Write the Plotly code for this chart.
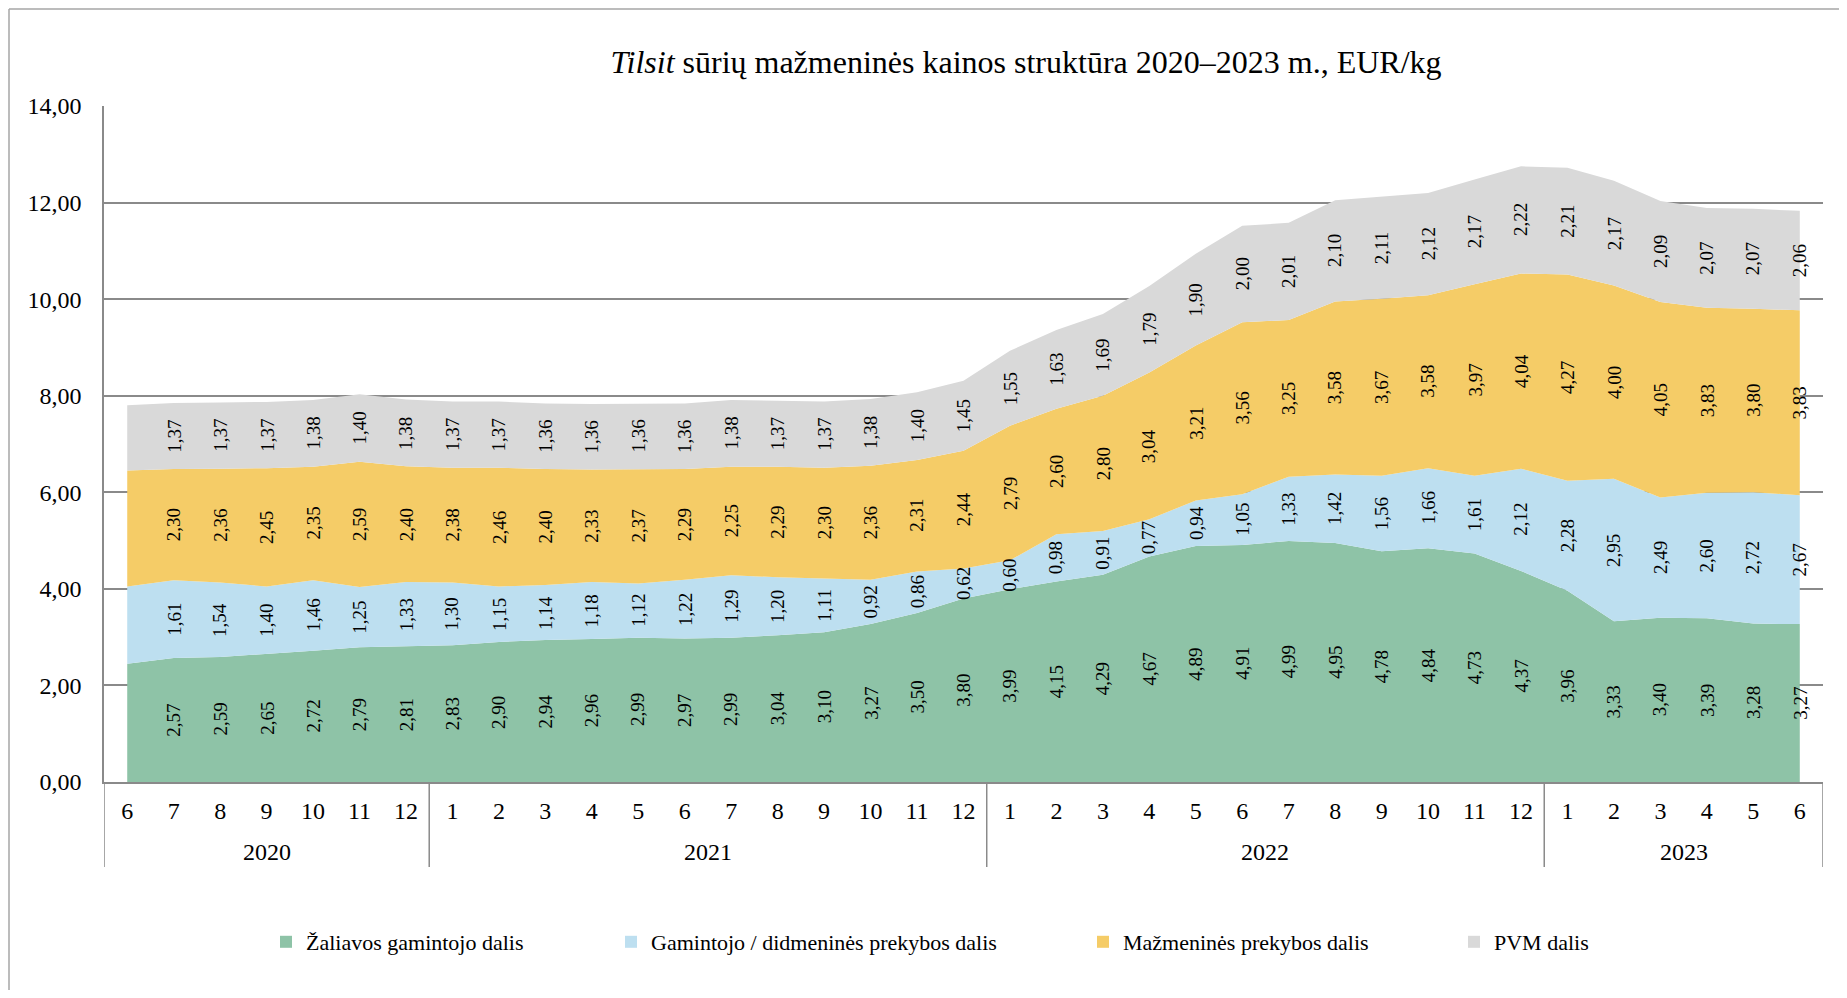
import plotly.graph_objects as go

# ---------------- data ----------------
months = ["6", "7", "8", "9", "10", "11", "12",
          "1", "2", "3", "4", "5", "6", "7", "8", "9", "10", "11", "12",
          "1", "2", "3", "4", "5", "6", "7", "8", "9", "10", "11", "12",
          "1", "2", "3", "4", "5", "6"]
years = ["2020", "2021", "2022", "2023"]
year_counts = [7, 12, 12, 6]

producer = [2.45, 2.57, 2.59, 2.65, 2.72, 2.79, 2.81,
            2.83, 2.90, 2.94, 2.96, 2.99, 2.97, 2.99, 3.04, 3.10, 3.27, 3.50, 3.80,
            3.99, 4.15, 4.29, 4.67, 4.89, 4.91, 4.99, 4.95, 4.78, 4.84, 4.73, 4.37,
            3.96, 3.33, 3.40, 3.39, 3.28, 3.27]
wholesale = [1.60, 1.61, 1.54, 1.40, 1.46, 1.25, 1.33,
             1.30, 1.15, 1.14, 1.18, 1.12, 1.22, 1.29, 1.20, 1.11, 0.92, 0.86, 0.62,
             0.60, 0.98, 0.91, 0.77, 0.94, 1.05, 1.33, 1.42, 1.56, 1.66, 1.61, 2.12,
             2.28, 2.95, 2.49, 2.60, 2.72, 2.67]
retail = [2.40, 2.30, 2.36, 2.45, 2.35, 2.59, 2.40,
          2.38, 2.46, 2.40, 2.33, 2.37, 2.29, 2.25, 2.29, 2.30, 2.36, 2.31, 2.44,
          2.79, 2.60, 2.80, 3.04, 3.21, 3.56, 3.25, 3.58, 3.67, 3.58, 3.97, 4.04,
          4.27, 4.00, 4.05, 3.83, 3.80, 3.83]
vat = [1.35, 1.37, 1.37, 1.37, 1.38, 1.40, 1.38,
       1.37, 1.37, 1.36, 1.36, 1.36, 1.36, 1.38, 1.37, 1.37, 1.38, 1.40, 1.45,
       1.55, 1.63, 1.69, 1.79, 1.90, 2.00, 2.01, 2.10, 2.11, 2.12, 2.17, 2.22,
       2.21, 2.17, 2.09, 2.07, 2.07, 2.06]
# first point (2020-6) has no data label in the reference
labelled = [False] + [True] * 36

series_names = ["Žaliavos gamintojo dalis",
                "Gamintojo / didmeninės prekybos dalis",
                "Mažmeninės prekybos dalis",
                "PVM dalis"]
series_values = [producer, wholesale, retail, vat]
series_colors = ["#8ec3a7", "#bddff0", "#f5cc67", "#d9d9d9"]

title_text = "<i>Tilsit</i> sūrių mažmeninės kainos struktūra 2020–2023 m., EUR/kg"
y_ticks = [0, 2, 4, 6, 8, 10, 12, 14]

# ---------------- geometry (page pixels; page body has an 8px margin) ----------------
OFF = 8
PAGE_W, PAGE_H = 1847, 998
W, H = PAGE_W - 2 * OFF, PAGE_H - 2 * OFF
PLOT_L, PLOT_R, PLOT_T, PLOT_B = 104, 1823, 106, 782   # page coords
ML = PLOT_L - OFF
MT = PLOT_T - OFF
MR = W - (PLOT_R - OFF)
MB = H - (PLOT_B - OFF)
PW, PH = PLOT_R - PLOT_L, PLOT_B - PLOT_T
FONT = "Liberation Serif, Times New Roman, serif"
GRID = "#8a8a8a"


def px_x(px):  # page x -> paper
    return (px - PLOT_L) / PW


def px_y(py):  # page y -> paper
    return (PLOT_B - py) / PH


n = len(months)
xs = list(range(n))

fig = go.Figure()

for name, vals, col in zip(series_names, series_values, series_colors):
    fig.add_trace(go.Scatter(
        x=xs, y=vals, mode="lines", stackgroup="one",
        line=dict(width=0, color=col), fillcolor=col,
        showlegend=False, hoverinfo="skip", name=name))

# legend entries (square swatches), one legend each for spacing
legend_text_starts = [306, 651, 1123, 1494]
legend_keys = ["legend", "legend2", "legend3", "legend4"]
for name, col, key in zip(series_names, series_colors, legend_keys):
    fig.add_trace(go.Scatter(
        x=[None], y=[None], mode="markers", name=name,
        marker=dict(symbol="square", size=12, color=col),
        showlegend=True, legend=key, hoverinfo="skip"))

# data labels
annotations = []
for si, vals in enumerate(series_values):
    for i in range(n):
        if not labelled[i]:
            continue
        base = sum(series_values[k][i] for k in range(si))
        mid = base + vals[i] / 2
        annotations.append(dict(
            x=i, y=mid, xref="x", yref="y", showarrow=False,
            text=f"{vals[i]:.2f}".replace(".", ","), textangle=-90,
            font=dict(family=FONT, size=19, color="black")))

# year labels and separators
shapes = []
start = -0.5
bounds = [start]
for yr, cnt in zip(years, year_counts):
    end = start + cnt
    annotations.append(dict(
        x=(start + end) / 2, y=px_y(852), xref="x", yref="paper",
        showarrow=False, text=yr, yanchor="middle",
        font=dict(family=FONT, size=24, color="black")))
    bounds.append(end)
    start = end
for b in bounds:
    shapes.append(dict(type="line", xref="x", yref="paper",
                       x0=b, x1=b, y0=0, y1=px_y(867),
                       line=dict(color=GRID, width=1.5)))

# outer frame (left and top edges visible)
shapes.append(dict(type="line", xref="paper", yref="paper",
                   x0=px_x(9), x1=px_x(9), y0=px_y(9), y1=px_y(1100),
                   line=dict(color="#a6a6a6", width=1.5)))
shapes.append(dict(type="line", xref="paper", yref="paper",
                   x0=px_x(9), x1=px_x(1900), y0=px_y(9), y1=px_y(9),
                   line=dict(color="#a6a6a6", width=1.5)))

layout_legends = {}
for key, ts in zip(legend_keys, legend_text_starts):
    layout_legends[key] = dict(
        orientation="h", x=px_x(ts - 40), xanchor="left",
        y=px_y(942), yanchor="middle",
        font=dict(family=FONT, size=22, color="black"),
        bgcolor="rgba(0,0,0,0)", itemsizing="constant")

fig.update_layout(
    width=W, height=H,
    margin=dict(l=ML, r=MR, t=MT, b=MB),
    paper_bgcolor="white", plot_bgcolor="white",
    separators=", ",
    font=dict(family=FONT, color="black"),
    title=dict(text=title_text, x=(1026 - OFF) / W, xref="container", xanchor="center",
               y=1 - (62 - OFF) / H, yref="container", yanchor="middle",
               font=dict(family=FONT, size=32, color="black")),
    xaxis=dict(range=[-0.5, n - 0.5], tickmode="array", tickvals=xs,
               ticktext=months, showgrid=False, zeroline=False,
               showline=True, linecolor=GRID, linewidth=1.5,
               ticks="", ticklabelstandoff=6,
               tickfont=dict(family=FONT, size=24, color="black")),
    yaxis=dict(range=[0, 14], tickmode="array", tickvals=y_ticks,
               tickformat=".2f", showgrid=True, gridcolor=GRID, gridwidth=1.5,
               zeroline=False, showline=True, linecolor=GRID, linewidth=1.5,
               ticks="", ticklabelstandoff=16,
               tickfont=dict(family=FONT, size=24, color="black"),
               layer="below traces"),
    annotations=annotations,
    shapes=shapes,
    **layout_legends,
)

fig.write_html("out.html")
